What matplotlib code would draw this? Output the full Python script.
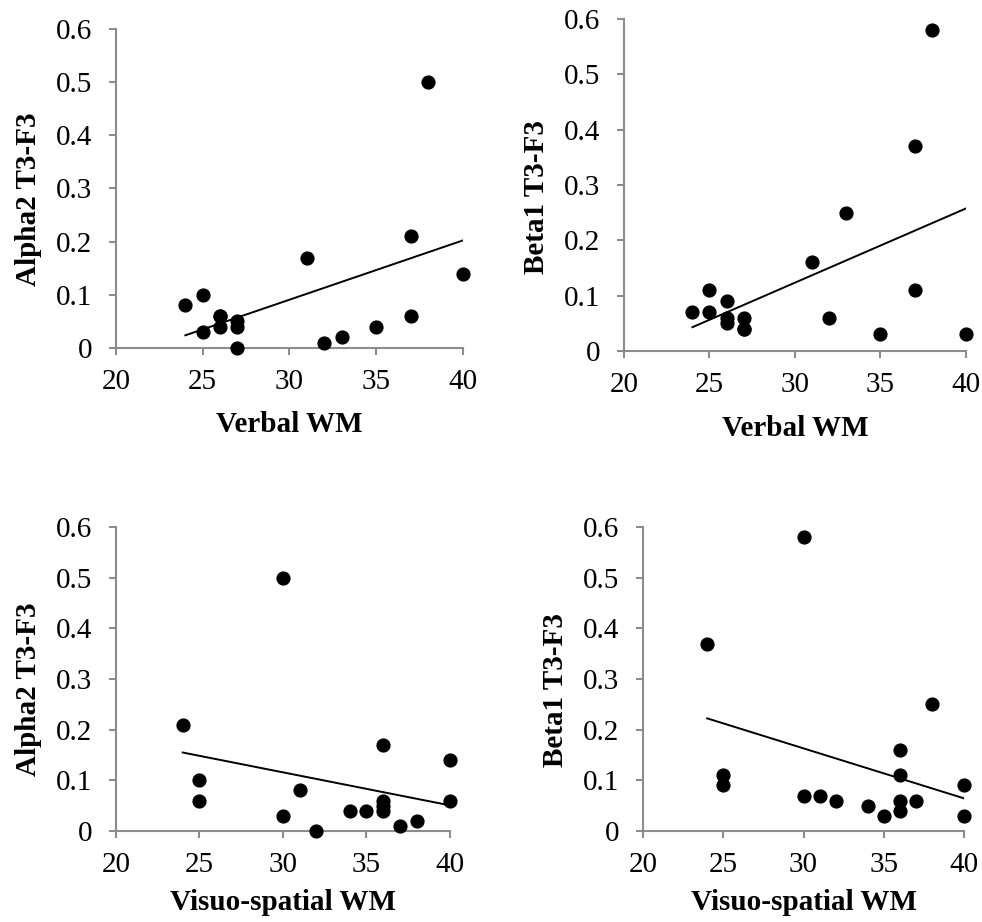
import numpy as np
import matplotlib
matplotlib.use("Agg")
import matplotlib.pyplot as plt

# data
verbal_x = [24, 25, 25, 26, 26, 26, 27, 27, 27, 31, 32, 33, 35, 37, 37, 38, 40]
alpha2_verbal = [0.08, 0.10, 0.03, 0.06, 0.06, 0.04, 0.05, 0.04, 0.00, 0.17, 0.01, 0.02, 0.04, 0.21, 0.06, 0.50, 0.14]

verbal_x2 = [24, 25, 25, 26, 26, 26, 27, 27, 27, 31, 32, 33, 35, 37, 37, 38, 40]
beta1_verbal = [0.07, 0.11, 0.07, 0.09, 0.06, 0.05, 0.06, 0.04, 0.04, 0.16, 0.06, 0.25, 0.03, 0.37, 0.11, 0.58, 0.03]

visuo_x = [24, 25, 25, 30, 30, 31, 32, 34, 35, 36, 36, 36, 36, 37, 38, 40, 40]
alpha2_visuo = [0.21, 0.10, 0.06, 0.50, 0.03, 0.08, 0.00, 0.04, 0.04, 0.17, 0.06, 0.05, 0.04, 0.01, 0.02, 0.14, 0.06]

visuo_x2 = [24, 25, 25, 30, 30, 31, 32, 34, 35, 36, 36, 36, 36, 37, 38, 40, 40]
beta1_visuo = [0.37, 0.11, 0.09, 0.58, 0.07, 0.07, 0.06, 0.05, 0.03, 0.16, 0.11, 0.06, 0.04, 0.06, 0.25, 0.09, 0.03]

x_ticks = [20, 25, 30, 35, 40]
y_ticks = [0, 0.1, 0.2, 0.3, 0.4, 0.5, 0.6]
y_tick_labels = ["0", "0.1", "0.2", "0.3", "0.4", "0.5", "0.6"]

plt.rcParams['font.family'] = ['Liberation Serif', 'DejaVu Serif']

fig = plt.figure(figsize=(9.82, 9.22), dpi=100)

panels = [
    # (rect, x, y, xlabel, ylabel, xlabel pad)
    ([0.1181, 0.6226, 0.3534, 0.3460], verbal_x, alpha2_verbal, "Verbal WM", "Alpha2 T3-F3", 12),
    ([0.6354, 0.6193, 0.3483, 0.3601], verbal_x2, beta1_verbal, "Verbal WM", "Beta1 T3-F3", 12),
    ([0.1181, 0.0987, 0.3401, 0.3297], visuo_x, alpha2_visuo, "Visuo-spatial WM", "Alpha2 T3-F3", 8),
    ([0.6548, 0.0987, 0.3269, 0.3297], visuo_x2, beta1_visuo, "Visuo-spatial WM", "Beta1 T3-F3", 8),
]

for rect, xs, ys, xlab, ylab, xpad in panels:
    ax = fig.add_axes(rect)
    ax.scatter(xs, ys, s=85, color="black", zorder=3, clip_on=False)
    # linear trendline over the data range
    m, b = np.polyfit(xs, ys, 1)
    xl = np.array([min(xs), max(xs)])
    ax.plot(xl, m * xl + b, color="black", lw=1.4)

    ax.set_xlim(20, 40)
    ax.set_ylim(0, 0.6)
    ax.set_xticks(x_ticks)
    ax.set_yticks(y_ticks)
    ax.set_yticklabels(y_tick_labels)
    for s in ["top", "right"]:
        ax.spines[s].set_visible(False)
    for s in ["left", "bottom"]:
        ax.spines[s].set_color("#8c8c8c")
        ax.spines[s].set_linewidth(1.5)
    ax.tick_params(direction="out", length=5, width=1.5, color="#8c8c8c",
                   labelsize=21)
    ax.tick_params(axis="y", pad=12)
    ax.tick_params(axis="x", pad=10)
    ax.set_xlabel(xlab, fontsize=21, fontweight="bold", labelpad=xpad)
    ax.set_ylabel(ylab, fontsize=21, fontweight="bold", labelpad=10, y=0.465)

fig.savefig("out.png", dpi=100)
